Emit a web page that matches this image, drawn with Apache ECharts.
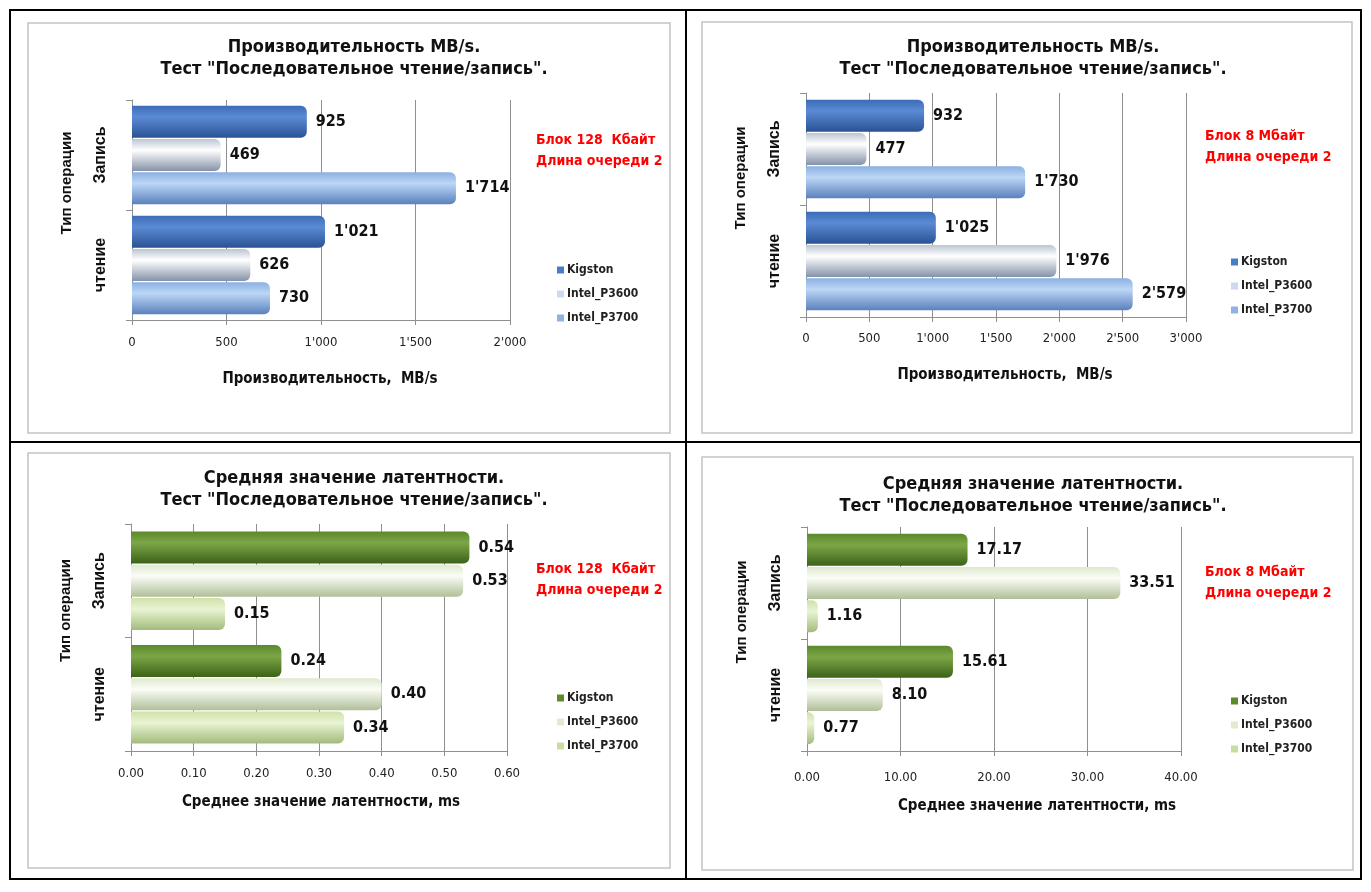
<!DOCTYPE html>
<html lang="ru">
<head>
  <title>Производительность и латентность</title>
  <meta charset="utf-8" />
  <script src="https://cdn.jsdelivr.net/npm/echarts@6/dist/echarts.min.js"></script>
  <style>
    body {
      margin: 0;
      background-color: #ffffff;
    }
    #main {
      width: 1371px;
      height: 892px;
    }
  </style>
</head>
<body>
<div id="main"></div>
<script type="text/javascript">
  // данные: [чтение, Запись]
  let categories = ['чтение', 'Запись']
  let seriesNames = ['Kigston', 'Intel_P3600', 'Intel_P3700']

  let speed128Kigston = [1021, 925]
  let speed128P3600 = [626, 469]
  let speed128P3700 = [730, 1714]

  let speed8mKigston = [1025, 932]
  let speed8mP3600 = [1976, 477]
  let speed8mP3700 = [2579, 1730]

  let lat128Kigston = [0.24, 0.54]
  let lat128P3600 = [0.40, 0.53]
  let lat128P3700 = [0.34, 0.15]

  let lat8mKigston = [15.61, 17.17]
  let lat8mP3600 = [8.10, 33.51]
  let lat8mP3700 = [0.77, 1.16]

  let axisMax = [2000, 3000, 0.6, 40]
  let axisInterval = [500, 500, 0.1, 10]

  let titleSpeed = 'Производительность MB/s.\nТест "Последовательное чтение/запись".'
  let titleLat = 'Средняя значение латентности.\nТест "Последовательное чтение/запись".'
  let xNameSpeed = 'Производительность,  MB/s'
  let xNameLat = 'Среднее значение латентности, ms'
  let yName = 'Тип операции'
  let note128 = 'Блок 128  Кбайт\nДлина очереди 2'
  let note8m = 'Блок 8 Мбайт\nДлина очереди 2'

  // оформление
  let narrowFont = "'Liberation Sans Narrow', 'DejaVu Sans Condensed', 'Arial Narrow', sans-serif"
  let wideFont = "'Liberation Sans', Arial, sans-serif"
  let barW = 32
  let gridColor = '#8f8f8f'

  let blueStops = [
    ['#3c6cb6', '#5b8bd5', '#2a5294'],
    ['#bcc5d2', '#ffffff', '#8592a8'],
    ['#8cb0e2', '#bcd6f5', '#5a80bd'],
  ]
  let greenStops = [
    ['#5b8829', '#7ca748', '#3c6217'],
    ['#dfe9cf', '#fbfdf6', '#b0bf98'],
    ['#cfe2a9', '#e9f4d3', '#a3bb7b'],
  ]
  let blueIcons = ['#4a7cc8', '#cdd9ee', '#92b3e2']
  let greenIcons = ['#5f8a2a', '#e2ebd2', '#c9dca2']

  let panels = [
    {gl: 132, gt: 100, gw: 378, gh: 220, lm: 16, tx: 349, ty: 31, nx: 531, ny: 125, lx: 552, ly: 259, xnx: 325, xny: 367, data: [speed128Kigston, speed128P3600, speed128P3700], stops: blueStops, icons: blueIcons, title: titleSpeed, xName: xNameSpeed, note: note128, fmt: 'int'},
    {gl: 806, gt: 93, gw: 380, gh: 224, lm: 15, tx: 1028, ty: 31, nx: 1200, ny: 121, lx: 1226, ly: 251, xnx: 1000, xny: 363, data: [speed8mKigston, speed8mP3600, speed8mP3700], stops: blueStops, icons: blueIcons, title: titleSpeed, xName: xNameSpeed, note: note8m, fmt: 'int'},
    {gl: 131, gt: 524, gw: 376, gh: 227, lm: 16, tx: 349, ty: 462, nx: 531, ny: 554, lx: 552, ly: 687, xnx: 316, xny: 790, data: [lat128Kigston, lat128P3600, lat128P3700], stops: greenStops, icons: greenIcons, title: titleLat, xName: xNameLat, note: note128, fmt: 'dec'},
    {gl: 807, gt: 527, gw: 374, gh: 224, lm: 20, tx: 1028, ty: 468, nx: 1200, ny: 557, lx: 1226, ly: 690, xnx: 1032, xny: 794, data: [lat8mKigston, lat8mP3600, lat8mP3700], stops: greenStops, icons: greenIcons, title: titleLat, xName: xNameLat, note: note8m, fmt: 'dec'},
  ]

  function fmtNum(v, kind) {
    if (kind === 'dec') {
      return Number(v).toFixed(2)
    }
    return String(Math.round(v)).replace(/\B(?=(\d{3})+(?!\d))/g, "'")
  }

  function cylinder(s) {
    return new echarts.graphic.LinearGradient(0, 0, 0, 1, [
      {offset: 0, color: s[0]},
      {offset: 0.35, color: s[1]},
      {offset: 1, color: s[2]},
    ])
  }

  let chart = echarts.init(document.getElementById('main'))

  let titles = []
  let grids = []
  let xAxes = []
  let yAxes = []
  let series = []
  let legends = []

  panels.forEach(function (p, i) {
    titles.push({
      text: p.title,
      left: p.tx,
      top: p.ty,
      textAlign: 'center',
      textStyle: {fontFamily: narrowFont, fontSize: 18, fontWeight: 'bold', color: '#111', lineHeight: 22},
    })
    titles.push({
      text: p.note,
      left: p.nx,
      top: p.ny,
      textStyle: {fontFamily: narrowFont, fontSize: 14, fontWeight: 'bold', color: '#ff0000', lineHeight: 21},
    })
    titles.push({
      text: p.xName,
      left: p.xnx,
      top: p.xny,
      textAlign: 'center',
      textStyle: {fontFamily: narrowFont, fontSize: 15, fontWeight: 'bold', color: '#111'},
    })

    grids.push({left: p.gl, top: p.gt, width: p.gw, height: p.gh, containLabel: false})

    xAxes.push({
      type: 'value',
      gridIndex: i,
      min: 0,
      max: axisMax[i],
      interval: axisInterval[i],
      axisLine: {show: true, lineStyle: {color: gridColor}},
      axisTick: {show: true, length: 5, lineStyle: {color: gridColor}},
      splitLine: {show: true, lineStyle: {color: gridColor, width: 1}},
      axisLabel: {
        margin: p.lm,
        fontFamily: narrowFont,
        fontSize: 13,
        color: '#222',
        formatter: function (v) { return fmtNum(v, p.fmt) },
      },
    })

    yAxes.push({
      type: 'category',
      gridIndex: i,
      data: categories,
      name: yName,
      nameLocation: 'middle',
      nameRotate: 90,
      nameGap: 58,
      nameTextStyle: {fontFamily: wideFont, fontSize: 15, fontWeight: 'bold', color: '#111', padding: [0, 0, 0, 54]},
      axisLine: {show: true, lineStyle: {color: gridColor}},
      axisTick: {show: true, length: 6, lineStyle: {color: gridColor}},
      axisLabel: {
        rotate: 90,
        margin: 23,
        fontFamily: wideFont,
        fontSize: 16,
        fontWeight: 'bold',
        color: '#111',
      },
    })

    seriesNames.forEach(function (name, k) {
      series.push({
        name: name,
        type: 'bar',
        xAxisIndex: i,
        yAxisIndex: i,
        data: p.data[k],
        barWidth: barW,
        barGap: '4%',
        itemStyle: {color: cylinder(p.stops[k]), borderRadius: [0, 6, 6, 0]},
        label: {
          show: true,
          position: 'right',
          distance: 9,
          fontFamily: narrowFont,
          fontSize: 16,
          fontWeight: 'bold',
          color: '#111',
          formatter: function (prm) { return fmtNum(prm.value, p.fmt) },
        },
        animation: false,
      })
    })

    legends.push({
      orient: 'vertical',
      left: p.lx,
      top: p.ly,
      itemWidth: 7,
      itemHeight: 7,
      itemGap: 12,
      selectedMode: false,
      icon: 'rect',
      textStyle: {fontFamily: narrowFont, fontSize: 12, fontWeight: 'bold', color: '#222', padding: [0, 0, 0, -2]},
      data: seriesNames.map(function (n, k) {
        return {name: n, itemStyle: {color: p.icons[k]}}
      }),
    })
  })

  // рамки
  let frames = [
    {type: 'rect', shape: {x: 10, y: 10, width: 1351, height: 869}, style: {fill: 'none', stroke: '#000', lineWidth: 2}},
    {type: 'line', shape: {x1: 686, y1: 10, x2: 686, y2: 879}, style: {stroke: '#000', lineWidth: 2}},
    {type: 'line', shape: {x1: 10, y1: 442, x2: 1361, y2: 442}, style: {stroke: '#000', lineWidth: 2}},
    {type: 'rect', shape: {x: 28, y: 23, width: 642, height: 410}, style: {fill: 'none', stroke: '#c4c4c4', lineWidth: 1.5}},
    {type: 'rect', shape: {x: 702, y: 22, width: 650, height: 411}, style: {fill: 'none', stroke: '#c4c4c4', lineWidth: 1.5}},
    {type: 'rect', shape: {x: 28, y: 453, width: 642, height: 415}, style: {fill: 'none', stroke: '#c4c4c4', lineWidth: 1.5}},
    {type: 'rect', shape: {x: 702, y: 457, width: 651, height: 413}, style: {fill: 'none', stroke: '#c4c4c4', lineWidth: 1.5}},
  ]

  chart.setOption({
    animation: false,
    backgroundColor: '#ffffff',
    title: titles,
    grid: grids,
    xAxis: xAxes,
    yAxis: yAxes,
    legend: legends,
    series: series,
    graphic: frames,
  })
</script>
</body>
</html>
